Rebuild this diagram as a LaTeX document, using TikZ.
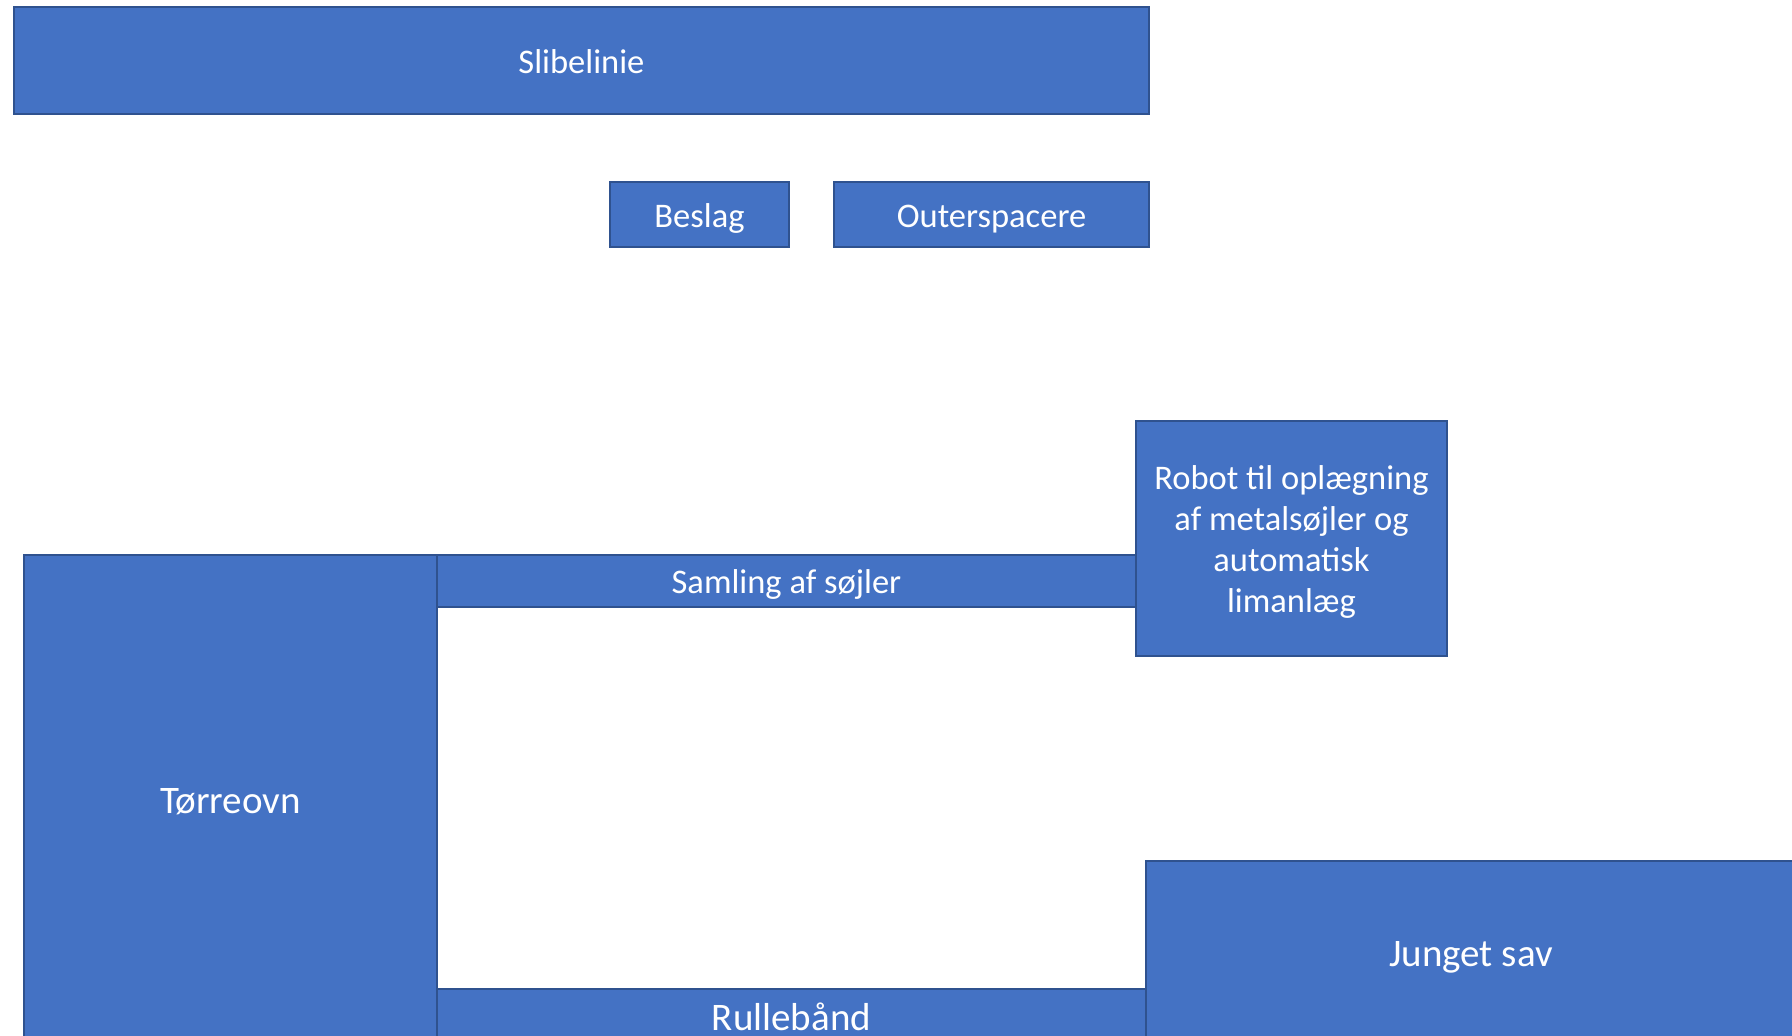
\documentclass[tikz,border=0pt]{standalone}
\usepackage{fontspec}
\setmainfont{Carlito}
\definecolor{boxfill}{HTML}{4472C4}
\definecolor{boxline}{HTML}{2F528F}
\begin{document}
\begin{tikzpicture}[x=1pt,y=-1pt,
  blk/.style={rectangle,fill=boxfill,draw=boxline,line width=1.2pt,inner sep=0pt,outer sep=0pt,
    text=white,font=\fontsize{34.5}{41}\selectfont},
  one/.style={text height=26pt,text depth=0.8pt},
  big/.style={font=\fontsize{39}{46}\selectfont,text height=29pt,text depth=1.2pt}]
\useasboundingbox (0,0) rectangle (1792,1036);
\clip (0,0) rectangle (1792,1036);
% top row
\node[blk,one,minimum width=1135pt,minimum height=107pt] (sli) at (581.5,60.5) {Slibelinie};
\node[blk,one,minimum width=179pt,minimum height=65pt] (bes) at (699.5,214.5) {Beslag};
\node[blk,one,minimum width=315pt,minimum height=65pt] (out) at (991.5,214.5) {Outerspacere};
% lower group
\node[blk,minimum width=311pt,minimum height=235pt] (rob) at (1291.5,538.5)
  {\begin{tabular}{@{}c@{}}\rule{0pt}{38pt}Robot til oplægning\\af metalsøjler og\\automatisk\\limanlæg\end{tabular}};
\node[blk,one,minimum width=699pt,minimum height=52pt] (sam) at (786.5,581) {Samling af søjler};
\node[blk,big,minimum width=413pt,minimum height=490pt] (tor) at (230.5,800) {Tørreovn};
\node[blk,big,minimum width=709pt,minimum height=56pt] (rul) at (791.5,1017) {Rullebånd};
\node[blk,big,minimum width=650pt,minimum height=184pt] (jun) at (1471,953) {Junget sav};
\end{tikzpicture}
\end{document}
